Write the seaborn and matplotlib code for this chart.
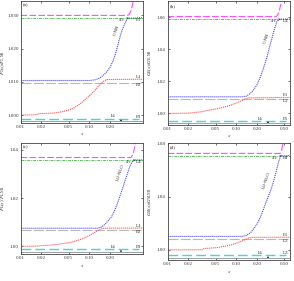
import matplotlib
matplotlib.use("Agg")
import matplotlib.pyplot as plt
import seaborn as sns

# x grid ends
x_span = [0.01, 0.6]

# ---- panel (a) ----
a_blue_x = [0.01, 0.10, 0.12, 0.14, 0.16, 0.18, 0.20, 0.22, 0.24, 0.26, 0.28, 0.30, 0.32, 0.34, 0.36, 0.6]
a_blue_y = [1.0104, 1.0104, 1.0106, 1.0111, 1.0120, 1.0131, 1.0144, 1.0162, 1.0185, 1.0211, 1.0237, 1.0256, 1.0270, 1.0282, 1.0291, 1.0293]
a_red_x = [0.01, 0.017, 0.018, 0.03, 0.04, 0.05, 0.06, 0.07, 0.08, 0.09, 0.10, 0.12, 0.14, 0.16, 0.18, 0.6]
a_red_y = [1.0000, 1.0001, 1.0004, 1.0006, 1.0010, 1.0015, 1.0022, 1.0031, 1.0040, 1.0050, 1.0058, 1.0074, 1.0091, 1.0102, 1.0107, 1.0108]
a_mag_x = [0.01, 0.36, 0.38, 0.40, 0.42, 0.45]
a_mag_y = [1.0300, 1.0300, 1.0304, 1.0313, 1.0328, 1.0360]
a_green = 1.0293
a_gray = 1.0097
a_cyan = 0.9989
a_dark = 0.9982
a_ylim = (0.9976, 1.0343)
a_yticks = [1.000, 1.010, 1.020, 1.030]
a_yticklabels = ["1.000", "1.010", "1.020", "1.030"]

# ---- panel (b) ----
b_blue_x = [0.01, 0.12, 0.14, 0.16, 0.18, 0.20, 0.22, 0.24, 0.26, 0.28, 0.30, 0.33, 0.36, 0.39, 0.42, 0.6]
b_blue_y = [1.0104, 1.0104, 1.0108, 1.0125, 1.0150, 1.0180, 1.0220, 1.0265, 1.0310, 1.0355, 1.0405, 1.0470, 1.0530, 1.0575, 1.0588, 1.0588]
b_red_x = [0.01, 0.02, 0.03, 0.046, 0.06, 0.08, 0.10, 0.13, 0.15, 0.6]
b_red_y = [1.0000, 1.0002, 1.0010, 1.0025, 1.0035, 1.0050, 1.0065, 1.0088, 1.0097, 1.0100]
b_mag_x = [0.01, 0.38, 0.40, 0.42, 0.44, 0.47]
b_mag_y = [1.0604, 1.0604, 1.0615, 1.0640, 1.0675, 1.0730]
b_green = 1.0588
b_gray = 1.0088
b_cyan = 0.9951
b_dark = 0.9941
b_ylim = (0.9928, 1.0700)
b_yticks = [1.00, 1.02, 1.04, 1.06]
b_yticklabels = ["1.00", "1.02", "1.04", "1.06"]

# ---- panel (c) ----
c_blue_x = [0.01, 0.13, 0.15, 0.17, 0.19, 0.21, 0.23, 0.25, 0.27, 0.30, 0.33, 0.36, 0.39, 0.42, 0.45, 0.6]
c_blue_y = [1.0075, 1.0075, 1.0080, 1.0092, 1.0108, 1.0122, 1.0145, 1.0170, 1.0197, 1.0235, 1.0272, 1.0305, 1.0333, 1.0350, 1.0358, 1.0358]
c_red_x = [0.01, 0.018, 0.02, 0.03, 0.05, 0.06, 0.08, 0.10, 0.12, 0.14, 0.16, 0.6]
c_red_y = [1.0000, 1.0001, 1.0003, 1.0006, 1.0015, 1.0020, 1.0032, 1.0045, 1.0058, 1.0070, 1.0075, 1.0076]
c_mag_x = [0.01, 0.40, 0.42, 0.44, 0.46, 0.49]
c_mag_y = [1.0368, 1.0368, 1.0375, 1.0392, 1.0415, 1.0460]
c_green = 1.0358
c_gray = 1.0066
c_cyan = 0.9987
c_dark = 0.9978
c_ylim = (0.9967, 1.0428)
c_yticks = [1.00, 1.02, 1.04]
c_yticklabels = ["1.00", "1.02", "1.04"]

# ---- panel (d) ----
d_blue_x = [0.01, 0.12, 0.14, 0.16, 0.18, 0.20, 0.22, 0.25, 0.28, 0.32, 0.35, 0.38, 0.41, 0.44, 0.6]
d_blue_y = [1.0101, 1.0101, 1.0108, 1.0128, 1.0160, 1.0195, 1.0238, 1.0310, 1.0380, 1.0455, 1.0520, 1.0590, 1.0660, 1.0705, 1.0708]
d_red_x = [0.01, 0.032, 0.034, 0.05, 0.07, 0.09, 0.11, 0.13, 0.15, 0.17, 0.6]
d_red_y = [1.0000, 1.0001, 1.0010, 1.0016, 1.0028, 1.0042, 1.0058, 1.0074, 1.0088, 1.0094, 1.0095]
d_mag_x = [0.01, 0.43, 0.45, 0.46, 0.47, 0.49]
d_mag_y = [1.0724, 1.0724, 1.0735, 1.0760, 1.0790, 1.0850]
d_green = 1.0708
d_gray = 1.0080
d_cyan = 0.9958
d_dark = 0.9939
d_ylim = (0.99245, 1.0802)
d_yticks = [1.00, 1.04, 1.08]
d_yticklabels = ["1.00", "1.04", "1.08"]

xticks_short = [0.01, 0.02, 0.05, 0.10, 0.20]
xticklabels_short = ["0.01", "0.02", "0.05", "0.10", "0.20"]
xticks_long = [0.01, 0.02, 0.05, 0.10, 0.20, 0.50]
xticklabels_long = ["0.01", "0.02", "0.05", "0.10", "0.20", "0.50"]

panel_letters = ["(a)", "(b)", "(c)", "(d)"]
ylabels = [r"$F_2(x)/F_{2,\mathrm{NR}}$", r"$G_E(x)/G_{E,\mathrm{NR}}$",
           r"$F_L(x)/F_{L,\mathrm{NR}}$", r"$G_M(x)/G_{M,\mathrm{NR}}$"]
curve_names = ["C-NB", "C-NB", "LO-NLO", "LO-NLO"]
top_labels = [("F3", "F1"), ("F3", "L4"), ("F3", "L4"), ("L2", "F4")]
mid_labels = [("L1", "F2"), ("F1", "L2"), ("L1", "F2"), ("F1", "L2")]
low_labels = [("L6", "F3"), ("L6", "F5"), ("L6", "F3"), ("L6", "L3")]

sns.set_theme(style="ticks")
plt.rcParams['font.family'] = ['Liberation Serif', 'DejaVu Serif']
plt.rcParams['mathtext.fontset'] = 'stix'
plt.rcParams['axes.linewidth'] = 0.6
plt.rcParams['axes.edgecolor'] = '#444444'

fig = plt.figure(figsize=(2.94, 2.81), dpi=100)
rects = [
    [0.070, 0.562, 0.416, 0.434],
    [0.570, 0.555, 0.416, 0.441],
    [0.070, 0.095, 0.416, 0.396],
    [0.570, 0.075, 0.416, 0.416],
]
# x-label offsets (axes fraction, top of label)
xlab_y = [-0.065, -0.065, -0.08, -0.075]

panels = [
    (a_blue_x, a_blue_y, a_red_x, a_red_y, a_mag_x, a_mag_y, a_green, a_gray, a_cyan, a_dark, a_ylim, a_yticks, a_yticklabels),
    (b_blue_x, b_blue_y, b_red_x, b_red_y, b_mag_x, b_mag_y, b_green, b_gray, b_cyan, b_dark, b_ylim, b_yticks, b_yticklabels),
    (c_blue_x, c_blue_y, c_red_x, c_red_y, c_mag_x, c_mag_y, c_green, c_gray, c_cyan, c_dark, c_ylim, c_yticks, c_yticklabels),
    (d_blue_x, d_blue_y, d_red_x, d_red_y, d_mag_x, d_mag_y, d_green, d_gray, d_cyan, d_dark, d_ylim, d_yticks, d_yticklabels),
]

fs = 3.6
xr = 0.52  # x position of the right-hand line labels
for i, (bx, by, rx, ry, mx, my, gr, gy, cy, dk, ylim, yt, ytl) in enumerate(panels):
    ax = fig.add_axes(rects[i])
    # flat reference lines
    sns.lineplot(x=x_span, y=[gr, gr], ax=ax, color='#5cbf5c', lw=0.7, linestyle=(0, (3, 1, 1, 1)))
    sns.lineplot(x=x_span, y=[gy, gy], ax=ax, color='#b8b8b8', lw=0.8, linestyle=(0, (9, 2)))
    sns.lineplot(x=[0.01, 0.52], y=[cy, cy], ax=ax, color='#3ddada', lw=1.0, linestyle=(0, (7, 3)))
    sns.lineplot(x=x_span, y=[dk, dk], ax=ax, color='#7a7a7a', lw=0.5)
    # curves
    sns.lineplot(x=mx, y=my, ax=ax, color='#ff4dff', lw=0.8, linestyle=(0, (6, 2)))
    sns.lineplot(x=bx, y=by, ax=ax, color='#4a4aff', lw=0.8, linestyle=(0, (1, 0.8)))
    sns.lineplot(x=rx, y=ry, ax=ax, color='#ff5050', lw=0.8, linestyle=(0, (1, 0.8)))

    ax.set_xscale('log')
    ax.set_xlim(0.01, 0.6)
    ax.set_ylim(*ylim)
    if i in (1, 3):
        ax.set_xticks(xticks_long)
        ax.set_xticklabels(xticklabels_long)
    else:
        ax.set_xticks(xticks_short)
        ax.set_xticklabels(xticklabels_short)
    ax.minorticks_off()
    ax.set_yticks(yt)
    ax.set_yticklabels(ytl)
    ax.tick_params(direction='in', length=1.5, width=0.5, labelsize=fs, pad=1.2,
                   top=True, right=True, colors='#333333')
    ax.set_xlabel(r"$x$", fontsize=fs)
    ax.xaxis.set_label_coords(0.5, xlab_y[i])
    ax.set_ylabel(ylabels[i], fontsize=fs)
    ax.yaxis.set_label_coords(-0.105, 0.5)

    ax.text(0.02, 0.98, panel_letters[i], transform=ax.transAxes, fontsize=fs,
            ha='left', va='top')

    # right-edge labels
    ax.text(xr, mx[0], top_labels[i][0], fontsize=fs, ha='center', va='bottom')
    ax.text(xr, gr, top_labels[i][1], fontsize=fs, ha='center', va='top')
    ax.text(xr, ry[-1], mid_labels[i][0], fontsize=fs, ha='center', va='bottom')
    ax.text(xr, gy, mid_labels[i][1], fontsize=fs, ha='center', va='top')
    ax.text(xr, cy, low_labels[i][1], fontsize=fs, ha='center', va='bottom')

    # 3-c / 4-c markers near the junction
    xj = bx[-2]
    ax.annotate("3-c", xy=(xj * 1.04, mx[0]), xytext=(xj * 0.9, mx[0]),
                fontsize=fs - 0.4, ha='right', va='bottom',
                arrowprops=dict(arrowstyle='->', lw=0.3, color='#333333'))
    ax.annotate("4-c", xy=(xj * 1.04, gr), xytext=(xj * 0.9, gr),
                fontsize=fs - 0.4, ha='right', va='top',
                arrowprops=dict(arrowstyle='->', lw=0.3, color='#333333'))

    # lower marker
    ax.annotate(low_labels[i][0], xy=(0.30, dk), xytext=(0.22, cy + (ylim[1] - ylim[0]) * 0.005),
                fontsize=fs - 0.4, ha='center', va='bottom',
                arrowprops=dict(arrowstyle='-|>', lw=0.4, color='#222222',
                                mutation_scale=2))

    # rotated curve name along the rising curve
    k = len(bx) // 2 + 3
    ax.text(bx[k] * 0.93, by[k], curve_names[i], fontsize=fs - 0.2,
            rotation=72, ha='right', va='center')

fig.savefig("out.png", dpi=100)
